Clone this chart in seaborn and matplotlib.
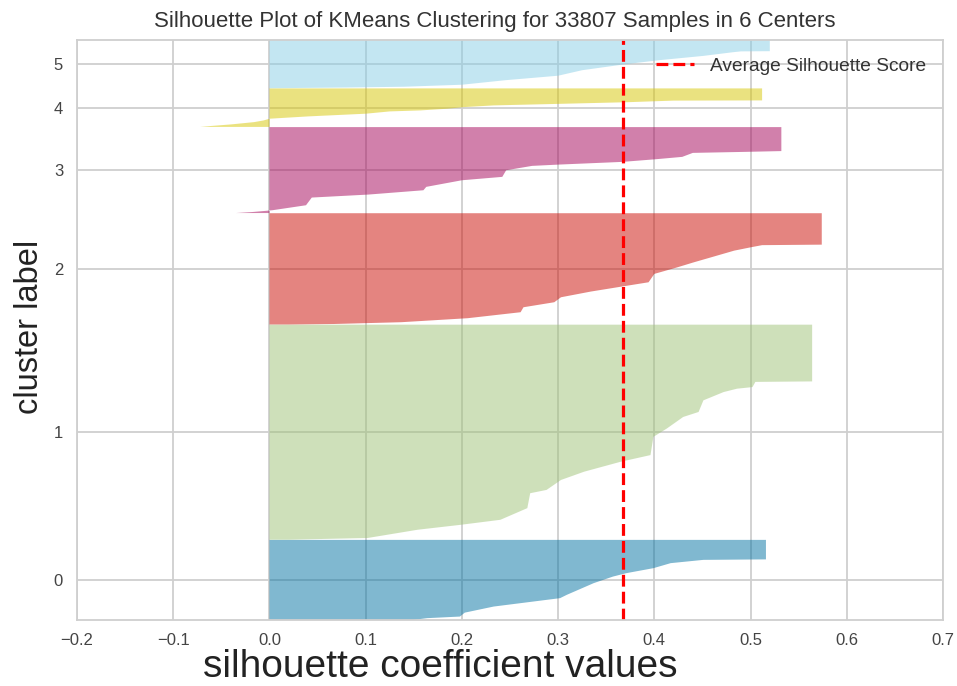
import numpy as np
import matplotlib
matplotlib.use("Agg")
import matplotlib.pyplot as plt
import seaborn as sns

# ---------------- data ----------------
cluster_labels = [0, 1, 2, 3, 4, 5]
cluster_sizes = [4670, 12560, 6500, 5020, 2250, 2807]
cluster_colors = ["#0272a2", "#9fc377", "#ca0b03", "#a50258", "#d7c703", "#88cee6"]
avg_silhouette = 0.367
n_samples = 33807
n_centers = 6

# sorted silhouette values per cluster: quantile position (0 = lowest, 1 = highest) and value
c0_frac = [0, 0.021, 0.041, 0.09, 0.166, 0.271, 0.3125, 0.459, 0.541, 0.584, 0.646, 0.709, 0.75, 0.756, 1.0]
c0_vals = [0.15, 0.164, 0.198, 0.203, 0.233, 0.302, 0.309, 0.337, 0.357, 0.371, 0.399, 0.417, 0.451, 0.516, 0.516]

c1_frac = [0, 0.0079, 0.0463, 0.0694, 0.0926, 0.1468, 0.2162, 0.2315, 0.2778, 0.3162, 0.3625, 0.3935,
           0.4782, 0.5171, 0.5708, 0.594, 0.6481, 0.6866, 0.7023, 0.7097, 0.7338, 0.7361, 1.0]
c1_vals = [0.02, 0.102, 0.154, 0.199, 0.24, 0.268, 0.271, 0.288, 0.303, 0.327, 0.365, 0.396,
           0.399, 0.413, 0.430, 0.446, 0.451, 0.472, 0.486, 0.502, 0.505, 0.564, 0.564]

c2_frac = [0, 0.0045, 0.0206, 0.0565, 0.1103, 0.155, 0.2, 0.2448, 0.296, 0.3435, 0.3794, 0.4547,
           0.5139, 0.5587, 0.6036, 0.6637, 0.6933, 0.713, 0.7175, 1.0]
c2_vals = [0.02, 0.067, 0.137, 0.206, 0.261, 0.264, 0.296, 0.303, 0.334, 0.368, 0.394, 0.400,
           0.424, 0.441, 0.459, 0.483, 0.500, 0.512, 0.574, 0.574]

c3_frac = [0, 0.0116, 0.0233, 0.0326, 0.0907, 0.1802, 0.2151, 0.2651, 0.3047, 0.3814, 0.4209, 0.4977,
           0.5488, 0.564, 0.5953, 0.6256, 0.6535, 0.70, 0.7116, 0.7209, 1.0]
c3_vals = [-0.035, -0.018, -0.006, 0.003, 0.038, 0.044, 0.103, 0.160, 0.163, 0.200, 0.242, 0.246,
           0.273, 0.301, 0.367, 0.401, 0.429, 0.440, 0.494, 0.532, 0.532]

c4_frac = [0, 0.026, 0.065, 0.1247, 0.1688, 0.213, 0.2727, 0.3429, 0.4026, 0.4286, 0.4727, 0.5143,
           0.5584, 0.60, 0.6416, 0.6831, 0.6883, 1.0]
c4_vals = [-0.072, -0.06, -0.04, -0.016, -0.006, 0.0, 0.04, 0.10, 0.125, 0.157, 0.185, 0.202,
           0.233, 0.303, 0.372, 0.42, 0.512, 0.512]

c5_frac = [0, 0.0146, 0.03125, 0.0729, 0.1667, 0.2604, 0.375, 0.5, 0.5833, 0.6729, 0.75, 0.7667, 0.7708, 1.0]
c5_vals = [0.0, 0.08, 0.14, 0.20, 0.245, 0.30, 0.325, 0.37, 0.405, 0.451, 0.482, 0.49, 0.52, 0.52]

profiles_frac = [c0_frac, c1_frac, c2_frac, c3_frac, c4_frac, c5_frac]
profiles_vals = [c0_vals, c1_vals, c2_vals, c3_vals, c4_vals, c5_vals]

x_ticks = [-0.2, -0.1, 0.0, 0.1, 0.2, 0.3, 0.4, 0.5, 0.6, 0.7]

# ---------------- style ----------------
sns.set_style("whitegrid", {"grid.color": "#cfcfcf", "axes.edgecolor": "#cfcfcf"})
plt.rcParams["font.family"] = ["Liberation Sans", "DejaVu Sans"]
palette = sns.color_palette(cluster_colors)

fig, ax = plt.subplots(figsize=(9.57, 6.86), dpi=100)
fig.subplots_adjust(left=77 / 957, right=943 / 957, bottom=1 - 620 / 686, top=1 - 40 / 686)

gap = 10
y_lower = gap
tick_pos = []
for size, col, frac, vals in zip(cluster_sizes, palette, profiles_frac, profiles_vals):
    y = y_lower + np.asarray(frac) * size
    ax.fill_betweenx(y, 0, vals, facecolor=col, edgecolor="none", linewidth=0, alpha=0.5)
    tick_pos.append(y_lower + 0.5 * size)
    y_lower += size + gap

ax.axvline(avg_silhouette, color="red", linestyle="--", linewidth=2.3,
           label="Average Silhouette Score")

ax.set_xlim(-0.2, 0.7)
ax.set_ylim(0, y_lower)
ax.set_xticks(x_ticks)
ax.set_yticks(tick_pos)
ax.set_yticklabels([str(c) for c in cluster_labels])
ax.tick_params(axis="both", length=0, labelsize=12, colors="#444444")
ax.tick_params(axis="x", pad=9.5)
ax.tick_params(axis="y", pad=10)
for s in ax.spines.values():
    s.set_linewidth(1.3)
ax.grid(True, linewidth=1.3)
ax.set_axisbelow(True)

ax.set_title(f"Silhouette Plot of KMeans Clustering for {n_samples} Samples in {n_centers} Centers",
             fontsize=16, color="#333333", pad=9, x=0.4827)
ax.set_xlabel("silhouette coefficient values", fontsize=28, color="#222222", va="baseline")
ax.set_ylabel("cluster label", fontsize=23.5, color="#222222", va="baseline")
ax.xaxis.set_label_coords(0.419, -0.0991)
ax.yaxis.set_label_coords(-0.045, 0.505)

ax.legend(loc="upper right", frameon=False, fontsize=13.8, labelcolor="#333333")

fig.savefig("out.png", dpi=100)
